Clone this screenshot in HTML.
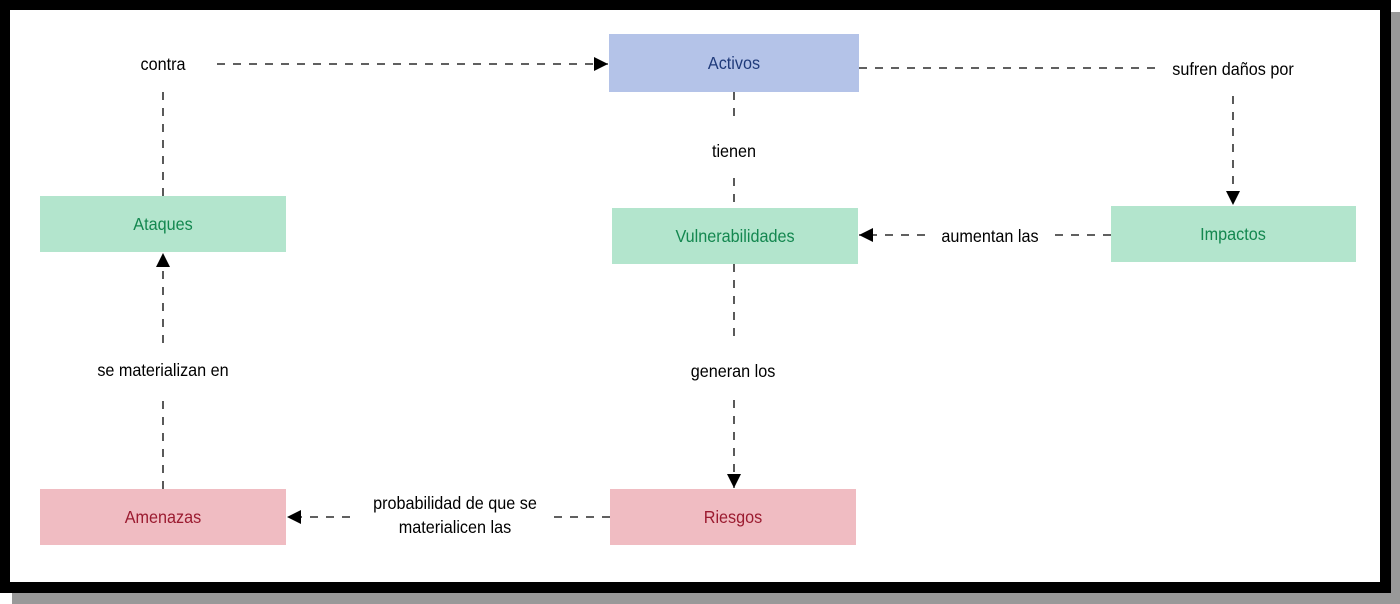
<!DOCTYPE html>
<html><head><meta charset="utf-8"><style>
html,body{margin:0;padding:0;background:#fff;}
svg{display:block;}
text{font-family:"Liberation Sans Narrow","Liberation Sans",sans-serif;font-size:18px;text-anchor:middle;dominant-baseline:central;}
</style></head><body>
<svg width="1400" height="604" viewBox="0 0 1400 604" xmlns="http://www.w3.org/2000/svg">
<defs><marker id="a" viewBox="0 0 10 10" refX="10" refY="5" markerWidth="14" markerHeight="14" markerUnits="userSpaceOnUse" orient="auto"><path d="M0,0L10,5L0,10z" fill="#000"/></marker></defs>
<rect x="12" y="12" width="1388" height="592" fill="#999"/>
<rect x="0" y="0" width="1391" height="593" fill="#000"/>
<rect x="10" y="10" width="1370" height="572" fill="#fff"/>
<g stroke="#000" stroke-width="1.3" stroke-dasharray="8,8" fill="none">
<path d="M163,489V400"/><path d="M163,343V253" marker-end="url(#a)"/>
<path d="M163,196V92"/><path d="M217,64H608" marker-end="url(#a)"/>
<path d="M859,68H1160"/><path d="M1233,96V205" marker-end="url(#a)"/>
<path d="M734,92V118"/><path d="M734,178V208"/>
<path d="M1111,235H1055"/><path d="M925,235H859" marker-end="url(#a)"/>
<path d="M734,264V343"/><path d="M734,400V488" marker-end="url(#a)"/>
<path d="M610,517H552"/><path d="M350,517H287" marker-end="url(#a)"/>
</g>
<rect x="609" y="34" width="250" height="58" fill="#b4c3e8"/>
<rect x="40" y="196" width="246" height="56" fill="#b3e5cd"/>
<rect x="612" y="208" width="246" height="56" fill="#b3e5cd"/>
<rect x="1111" y="206" width="245" height="56" fill="#b3e5cd"/>
<rect x="40" y="489" width="246" height="56" fill="#f0bcc2"/>
<rect x="610" y="489" width="246" height="56" fill="#f0bcc2"/>
<g transform="translate(734,63) scale(0.9,1)"><text fill="#1f3a7a">Activos</text></g>
<g transform="translate(163,224) scale(0.9,1)"><text fill="#13874f">Ataques</text></g>
<g transform="translate(735,236) scale(0.9,1)"><text fill="#13874f">Vulnerabilidades</text></g>
<g transform="translate(1233,234) scale(0.9,1)"><text fill="#13874f">Impactos</text></g>
<g transform="translate(163,517) scale(0.9,1)"><text fill="#9b1b30">Amenazas</text></g>
<g transform="translate(733,517) scale(0.9,1)"><text fill="#9b1b30">Riesgos</text></g>
<g transform="translate(163,64) scale(0.9,1)"><text>contra</text></g>
<g transform="translate(1233,69) scale(0.9,1)"><text>sufren daños por</text></g>
<g transform="translate(734,151) scale(0.9,1)"><text>tienen</text></g>
<g transform="translate(990,236) scale(0.9,1)"><text>aumentan las</text></g>
<g transform="translate(163,370) scale(0.9,1)"><text>se materializan en</text></g>
<g transform="translate(733,371) scale(0.9,1)"><text>generan los</text></g>
<g transform="translate(455,503) scale(0.9,1)"><text>probabilidad de que se</text></g>
<g transform="translate(455,527) scale(0.9,1)"><text>materialicen las</text></g>
</svg>
</body></html>
